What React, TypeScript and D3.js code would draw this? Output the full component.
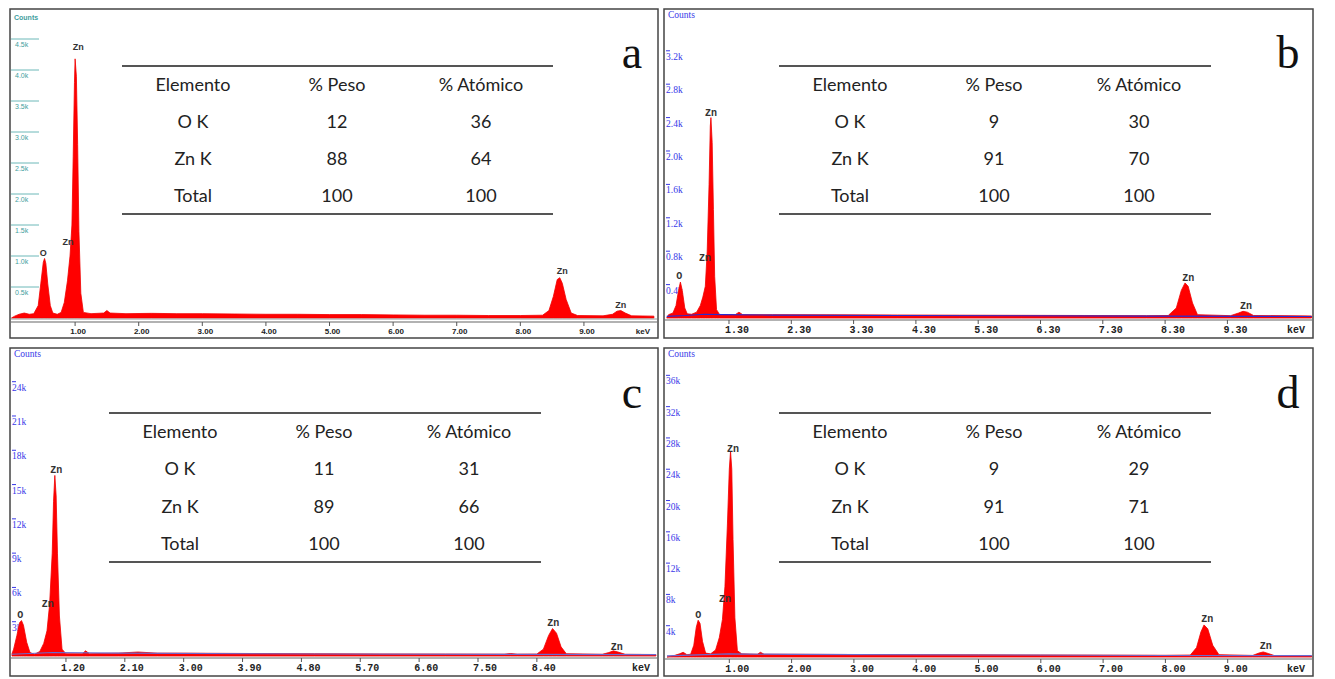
import React from "react";
import * as d3 from "d3";

// ---- data (keV, counts) ----
const spectrumA: [number, number][] = [
  [0.0, 0], [0.05, 30], [0.12, 60], [0.2, 80], [0.28, 60], [0.35, 70], [0.42, 200], [0.46, 550],
  [0.5, 900], [0.52, 960], [0.54, 880], [0.57, 550], [0.61, 200], [0.65, 80], [0.72, 60], [0.78, 90],
  [0.83, 250], [0.88, 600], [0.92, 1000], [0.95, 1500], [0.97, 2600], [0.99, 3800], [1.0, 4180],
  [1.02, 3900], [1.04, 2800], [1.06, 1400], [1.09, 400], [1.13, 90], [1.25, 70], [1.45, 80],
  [1.5, 120], [1.55, 80], [1.8, 70], [2.2, 75], [2.6, 70], [3.0, 70], [3.5, 65], [4.0, 60],
  [4.5, 60], [5.0, 55], [5.5, 55], [6.0, 50], [6.5, 45], [7.0, 45], [7.5, 40], [8.0, 40],
  [8.35, 45], [8.45, 120], [8.52, 350], [8.58, 620], [8.62, 650], [8.66, 560], [8.72, 300],
  [8.8, 80], [8.9, 40], [9.3, 35], [9.45, 60], [9.52, 110], [9.58, 120], [9.65, 80], [9.75, 35],
  [10.1, 30],
];
const spectrumB: [number, number][] = [
  [0.3, 0], [0.33, 40], [0.4, 60], [0.45, 150], [0.49, 330], [0.52, 430], [0.55, 330], [0.59, 120],
  [0.63, 50], [0.7, 45], [0.78, 70], [0.84, 150], [0.88, 250], [0.92, 380], [0.95, 800],
  [0.98, 1600], [1.0, 2300], [1.01, 2400], [1.03, 2100], [1.05, 1300], [1.07, 500], [1.1, 100],
  [1.15, 40], [1.4, 40], [1.46, 70], [1.52, 40], [2, 40], [3, 38], [4, 36], [5, 34], [6, 32],
  [7, 30], [8, 28], [8.35, 30], [8.48, 120], [8.56, 330], [8.62, 420], [8.67, 380], [8.74, 180],
  [8.82, 40], [9.35, 28], [9.48, 60], [9.55, 80], [9.62, 70], [9.72, 30], [10.65, 25],
];
const backgroundB: [number, number][] = [
  [0.3, 20], [0.6, 30], [0.9, 45], [1.2, 40], [2, 35], [4, 30], [6, 27], [8, 22], [10.65, 18],
];
const spectrumC: [number, number][] = [
  [0.375, 200], [0.4, 600], [0.45, 1800], [0.49, 2900], [0.52, 3100], [0.55, 2700], [0.6, 1200],
  [0.65, 300], [0.72, 150], [0.8, 400], [0.86, 1100], [0.91, 2200], [0.95, 4500], [0.99, 9000],
  [1.01, 13500], [1.03, 15800], [1.05, 14000], [1.07, 9000], [1.1, 3500], [1.14, 600], [1.2, 200],
  [1.45, 200], [1.5, 450], [1.56, 200], [2.0, 250], [2.3, 350], [2.6, 250], [3.0, 250], [4, 220],
  [5, 200], [6, 180], [7, 170], [7.9, 160], [8.0, 220], [8.1, 160], [8.4, 170], [8.5, 600],
  [8.58, 1800], [8.64, 2400], [8.7, 2000], [8.77, 800], [8.85, 200], [9.4, 150], [9.5, 300],
  [9.57, 450], [9.64, 350], [9.75, 150], [10.22, 130],
];
const backgroundC: [number, number][] = [
  [0.375, 150], [1.0, 300], [2, 250], [5, 180], [8, 140], [10.22, 120],
];
const spectrumD: [number, number][] = [
  [0.0, 0], [0.1, 150], [0.2, 400], [0.26, 600], [0.32, 300], [0.38, 350], [0.43, 1500],
  [0.47, 3800], [0.5, 4700], [0.53, 4300], [0.57, 2000], [0.62, 500], [0.7, 400], [0.78, 900],
  [0.84, 2500], [0.89, 4800], [0.93, 9000], [0.97, 17000], [1.0, 24000], [1.02, 26300],
  [1.04, 24000], [1.06, 15000], [1.09, 5000], [1.13, 800], [1.2, 400], [1.45, 350], [1.5, 600],
  [1.56, 350], [2, 350], [3, 320], [4, 300], [5, 280], [6, 260], [7, 240], [8, 220], [8.4, 250],
  [8.5, 1200], [8.57, 3200], [8.62, 4100], [8.68, 3600], [8.76, 1500], [8.86, 300], [9.4, 200],
  [9.5, 500], [9.57, 650], [9.65, 450], [9.76, 150], [10.35, 120],
];
const backgroundD: [number, number][] = [
  [0.0, 150], [1.0, 400], [2, 330], [5, 260], [8, 200], [10.35, 170],
];

// peak labels: [text, keV, counts]
const peaksA: [string, number, number][] = [
  ["Zn", 1.05, 4320], ["Zn", 0.89, 1180], ["O", 0.5, 1000], ["Zn", 8.66, 710], ["Zn", 9.58, 160],
];
const peaksB: [string, number, number][] = [
  ["Zn", 1.01, 2420], ["Zn", 0.915, 683], ["O", 0.5, 467], ["Zn", 8.67, 443], ["Zn", 9.6, 108],
];
const peaksC: [string, number, number][] = [
  ["Zn", 1.05, 16010], ["Zn", 0.92, 4290], ["O", 0.5, 3325], ["Zn", 8.65, 2625], ["Zn", 9.62, 525],
];
const peaksD: [string, number, number][] = [
  ["Zn", 1.06, 26200], ["Zn", 0.93, 7030], ["O", 0.5, 4980], ["Zn", 8.67, 4470], ["Zn", 9.61, 1020],
];

const xTicksA = [1, 2, 3, 4, 5, 6, 7, 8, 9];
const xTicksB = [1.3, 2.3, 3.3, 4.3, 5.3, 6.3, 7.3, 8.3, 9.3];
const xTicksC = [1.2, 2.1, 3.0, 3.9, 4.8, 5.7, 6.6, 7.5, 8.4];
const xTicksD = [1, 2, 3, 4, 5, 6, 7, 8, 9];
const yTicksA = [500, 1000, 1500, 2000, 2500, 3000, 3500, 4000, 4500];
const yTicksB = [400, 800, 1200, 1600, 2000, 2400, 2800, 3200];
const yTicksC = [3000, 6000, 9000, 12000, 15000, 18000, 21000, 24000];
const yTicksD = [4000, 8000, 12000, 16000, 20000, 24000, 28000, 32000, 36000];

// composition tables
const tableHeader = ["Elemento", "% Peso", "% Atómico"];
const elements = ["O K", "Zn K", "Total"];
const pesoA = [12, 88, 100];
const atomicoA = [36, 64, 100];
const pesoB = [9, 91, 100];
const atomicoB = [30, 70, 100];
const pesoC = [11, 89, 100];
const atomicoC = [31, 66, 100];
const pesoD = [9, 91, 100];
const atomicoD = [29, 71, 100];

const TEAL = "#3f9e9e";
const BLUE = "#3838e8";

type Panel = {
  letter: string;
  box: [number, number, number, number];
  xDom: [number, number];
  xRange: [number, number];
  yDom: [number, number];
  yRange: [number, number];
  xTicks: number[];
  yTicks: number[];
  kind: "teal" | "blue";
  spectrum: [number, number][];
  bg: [number, number][] | null;
  bgColor: string;
  peaks: [string, number, number][];
  peso: number[];
  atomico: number[];
  table: { x1: number; x2: number; top: number; bottom: number; cols: number[]; rows: number[] };
  letterPos: [number, number];
  labelDx: number;
  fmtY: (v: number) => string;
};

const panels: Panel[] = [
  {
    letter: "a", box: [10, 9, 648, 329], xDom: [0, 10.1], xRange: [11.5, 653.9],
    yDom: [0, 4950], yRange: [318, 11.1], xTicks: xTicksA, yTicks: yTicksA, kind: "teal",
    spectrum: spectrumA, bg: null, bgColor: "", peaks: peaksA, peso: pesoA, atomico: atomicoA,
    table: { x1: 122, x2: 553, top: 66, bottom: 214, cols: [193, 337, 481], rows: [85, 122, 159, 196] },
    letterPos: [632, 68], labelDx: 3, fmtY: (v) => (v / 1000).toFixed(1) + "k",
  },
  {
    letter: "b", box: [664, 9, 649, 329], xDom: [0.3, 10.65], xRange: [666.7, 1311.5],
    yDom: [0, 3680], yRange: [318, 10.7], xTicks: xTicksB, yTicks: yTicksB, kind: "blue",
    spectrum: spectrumB, bg: backgroundB, bgColor: "#2a2ad0", peaks: peaksB, peso: pesoB, atomico: atomicoB,
    table: { x1: 779, x2: 1211, top: 66, bottom: 214, cols: [850, 994, 1139], rows: [85, 122, 159, 196] },
    letterPos: [1288, 68], labelDx: 8, fmtY: (v) => (v / 1000).toFixed(1) + "k",
  },
  {
    letter: "c", box: [10, 348, 648, 328], xDom: [0.375, 10.22], xRange: [12, 655.9],
    yDom: [0, 26800], yRange: [656, 349.7], xTicks: xTicksC, yTicks: yTicksC, kind: "blue",
    spectrum: spectrumC, bg: backgroundC, bgColor: "#6a6ad0", peaks: peaksC, peso: pesoC, atomico: atomicoC,
    table: { x1: 109, x2: 541, top: 413, bottom: 562, cols: [180, 324, 469], rows: [432, 469, 507, 544] },
    letterPos: [632, 408], labelDx: 7, fmtY: (v) => v / 1000 + "k",
  },
  {
    letter: "d", box: [664, 348, 649, 328], xDom: [0, 10.35], xRange: [667, 1311.8],
    yDom: [0, 39200], yRange: [657, 350.3], xTicks: xTicksD, yTicks: yTicksD, kind: "blue",
    spectrum: spectrumD, bg: backgroundD, bgColor: "#6a6ad0", peaks: peaksD, peso: pesoD, atomico: atomicoD,
    table: { x1: 779, x2: 1211, top: 413, bottom: 562, cols: [850, 994, 1139], rows: [432, 469, 507, 544] },
    letterPos: [1288, 408], labelDx: 8, fmtY: (v) => v / 1000 + "k",
  },
];

const SpectrumPanel = ({ p }: { p: Panel }) => {
  const [bx, by, bw, bh] = p.box;
  const x = d3.scaleLinear().domain(p.xDom).range(p.xRange);
  const y = d3.scaleLinear().domain(p.yDom).range(p.yRange);
  const area = d3
    .area<[number, number]>()
    .x((d) => x(d[0]))
    .y0(y(0))
    .y1((d) => y(d[1]));
  const line = d3
    .line<[number, number]>()
    .x((d) => x(d[0]))
    .y((d) => y(d[1]));
  const y0 = y(0);
  const teal = p.kind === "teal";
  const axisY = teal ? y0 + 4 : y0 + 2;
  const tickFont = teal ? "'Liberation Sans', Arial, sans-serif" : "'Liberation Mono', 'Courier New', monospace";
  const clipId = "clip-" + p.letter;

  return (
    <g>
      <defs>
        <clipPath id={clipId}>
          <rect x={bx + 1} y={by + 1} width={bw - 2} height={bh - 2} />
        </clipPath>
      </defs>
      <rect x={bx} y={by} width={bw} height={bh} fill="#fff" stroke="#444" strokeWidth={1.5} />

      {/* y axis */}
      <text
        x={teal ? bx + 4 : bx + 4}
        y={by + (teal ? 11 : 9)}
        fontSize={teal ? 7 : 9.5}
        fontWeight={teal ? "bold" : "normal"}
        fontFamily={teal ? "'Liberation Sans', Arial, sans-serif" : "'Liberation Serif', serif"}
        fill={teal ? TEAL : BLUE}
      >
        Counts
      </text>
      {p.yTicks.map((t) =>
        teal ? (
          <g key={t}>
            <line x1={bx + 1} x2={bx + 29} y1={y(t)} y2={y(t)} stroke="#6cb8b8" strokeWidth={1} />
            <text x={bx + 5} y={y(t) + 8} fontSize={7} fontFamily="'Liberation Sans', Arial, sans-serif" fill={TEAL}>
              {p.fmtY(t)}
            </text>
          </g>
        ) : (
          <g key={t}>
            <line x1={bx + 2} x2={bx + 6} y1={y(t)} y2={y(t)} stroke={BLUE} strokeWidth={1} />
            <text x={bx + 2} y={y(t) + 9} fontSize={9.5} fontFamily="'Liberation Serif', serif" fill={BLUE}>
              {p.fmtY(t)}
            </text>
          </g>
        )
      )}

      {/* spectrum */}
      <g clipPath={`url(#${clipId})`}>
        <path d={area(p.spectrum) || ""} fill="#ff0000" stroke="#f00000" strokeWidth={0.8} />
        {p.bg && <path d={line(p.bg) || ""} fill="none" stroke={p.bgColor} strokeWidth={teal ? 1 : 1.1} />}
        {teal && <line x1={bx + 1} x2={bx + bw - 1} y1={y0 + 1} y2={y0 + 1} stroke="#999" strokeWidth={1} />}
      </g>

      {/* x axis */}
      <line x1={bx + 1} x2={bx + bw - 1} y1={axisY} y2={axisY} stroke="#666" strokeWidth={1.2} />
      {p.xTicks.map((t) => (
        <g key={t}>
          <line x1={x(t)} x2={x(t)} y1={axisY} y2={axisY + 4} stroke="#555" strokeWidth={1} />
          <text
            x={x(t) + p.labelDx}
            y={axisY + (teal ? 12 : 13)}
            textAnchor="middle"
            fontSize={teal ? 8 : 10}
            fontWeight="bold"
            fontFamily={tickFont}
            fill="#222"
          >
            {t.toFixed(2)}
          </text>
        </g>
      ))}
      <text
        x={bx + bw - 8}
        y={axisY + (teal ? 12 : 13)}
        textAnchor="end"
        fontSize={teal ? 8 : 10}
        fontWeight="bold"
        fontFamily={tickFont}
        fill="#222"
      >
        keV
      </text>

      {/* peak labels */}
      {p.peaks.map(([label, e, c], i) => (
        <text
          key={i}
          x={x(e)}
          y={y(c)}
          textAnchor="middle"
          fontSize={teal ? 9 : 10}
          fontWeight="bold"
          fontFamily={teal ? "'Liberation Sans', Arial, sans-serif" : "'Liberation Mono', 'Courier New', monospace"}
          fill="#333"
        >
          {label}
        </text>
      ))}

      {/* composition table */}
      <line x1={p.table.x1} x2={p.table.x2} y1={p.table.top} y2={p.table.top} stroke="#555" strokeWidth={2} />
      <line x1={p.table.x1} x2={p.table.x2} y1={p.table.bottom} y2={p.table.bottom} stroke="#555" strokeWidth={2} />
      {tableHeader.map((h, j) => (
        <text key={h} x={p.table.cols[j]} y={p.table.rows[0] + 6} textAnchor="middle" fontSize={18} fontFamily="Lato, 'Open Sans', sans-serif" fill="#222">
          {h}
        </text>
      ))}
      {elements.map((el, i) => (
        <g key={el}>
          {[el, String(p.peso[i]), String(p.atomico[i])].map((v, j) => (
            <text key={j} x={p.table.cols[j]} y={p.table.rows[i + 1] + 6} textAnchor="middle" fontSize={18} fontFamily="Lato, 'Open Sans', sans-serif" fill="#222">
              {v}
            </text>
          ))}
        </g>
      ))}

      <text x={p.letterPos[0]} y={p.letterPos[1]} textAnchor="middle" fontSize={46} fontFamily="'Liberation Serif', 'Times New Roman', serif" fill="#111">
        {p.letter}
      </text>
    </g>
  );
};

export default function App() {
  return (
    <svg
      width={1335}
      height={679}
      viewBox="0 0 1335 679"
      style={{ position: "absolute", left: 0, top: 0, background: "#fff" }}
    >
      <rect width={1335} height={679} fill="#fff" />
      {panels.map((p) => (
        <SpectrumPanel key={p.letter} p={p} />
      ))}
    </svg>
  );
}
